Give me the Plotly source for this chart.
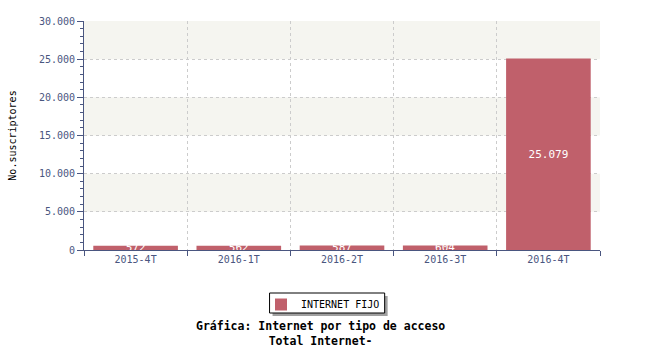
import plotly.graph_objects as go

categories = ["2015-4T", "2016-1T", "2016-2T", "2016-3T", "2016-4T"]
values = [572, 562, 587, 604, 25079]
series_name = "INTERNET FIJO"
y_ticks = [0, 5000, 10000, 15000, 20000, 25000, 30000]
title_text = "<b>Gráfica: Internet por tipo de acceso<br>Total Internet-</b>"

BAR = "#c0606b"
AXIS = "#4a5680"
FONT = "DejaVu Sans Mono"

fig = go.Figure()
fig.add_trace(go.Bar(
    x=categories, y=values, name=series_name,
    marker=dict(color=BAR, line=dict(width=0)),
    width=0.82,
    texttemplate="%{y:,d}", textposition="inside", insidetextanchor="middle",
    textfont=dict(color="white", family=FONT, size=11),
    constraintext="none", cliponaxis=True,
    showlegend=True,
))

# plot area in pixels: x 80..600, y 21..250
def px_x(p):
    return (p - 80) / 520


def px_y(p):
    return (250 - p) / 229


shapes = []
for i in range(len(y_ticks) - 1):
    if i % 2 == 1:
        shapes.append(dict(type="rect", xref="paper", yref="y", x0=0, x1=1,
                           y0=y_ticks[i], y1=y_ticks[i + 1],
                           fillcolor="#f5f5f0", line=dict(width=0), layer="below"))
# legend shadow and box
shapes.append(dict(type="rect", xref="paper", yref="paper",
                   x0=px_x(270), x1=px_x(386), y0=px_y(316), y1=px_y(296),
                   fillcolor="#a0a0a0", line=dict(width=0), layer="above"))
shapes.append(dict(type="rect", xref="paper", yref="paper",
                   x0=px_x(267), x1=px_x(383), y0=px_y(313), y1=px_y(293),
                   fillcolor="white", line=dict(width=1, color="black"), layer="above"))

fig.update_layout(
    width=650, height=350,
    margin=dict(l=80, r=50, t=21, b=100),
    paper_bgcolor="white", plot_bgcolor="white",
    separators=",.",
    font=dict(family=FONT, size=10, color="black"),
    shapes=shapes,
    uniformtext=dict(minsize=11, mode="show"),
    showlegend=True,
    legend=dict(orientation="h", xref="container", yref="container",
                x=261 / 650, xanchor="left", y=1 - 290 / 350, yanchor="top",
                borderwidth=0, bgcolor="rgba(0,0,0,0)",
                font=dict(family=FONT, size=10, color="black"),
                itemwidth=30),
    annotations=[dict(text=title_text, xref="paper", yref="paper",
                      x=px_x(318), xanchor="center", y=px_y(317), yanchor="top",
                      showarrow=False, align="center",
                      font=dict(family=FONT, size=11.5, color="black"))],
    xaxis=dict(
        type="category", tickson="boundaries", ticks="outside", ticklen=5,
        tickcolor=AXIS, showline=True, linecolor=AXIS, linewidth=1,
        showgrid=True, gridcolor="#cccccc", griddash="dot", gridwidth=1,
        tickfont=dict(family=FONT, size=10, color=AXIS),
        range=[-0.5, 4.5], zeroline=False,
    ),
    yaxis=dict(
        range=[0, 30000], tickvals=y_ticks, tickformat=",d",
        ticks="outside", ticklen=6, tickcolor=AXIS,
        showline=True, linecolor=AXIS, linewidth=1,
        showgrid=True, gridcolor="#cccccc", griddash="dot", gridwidth=1,
        zeroline=False,
        minor=dict(dtick=1000, ticks="outside", ticklen=3, tickcolor=AXIS, showgrid=False),
        tickfont=dict(family=FONT, size=10, color=AXIS),
        title=dict(text="No.suscriptores", font=dict(family=FONT, size=10, color="black"), standoff=20),
    ),
    bargap=0.18,
)

fig.write_html("out.html")
